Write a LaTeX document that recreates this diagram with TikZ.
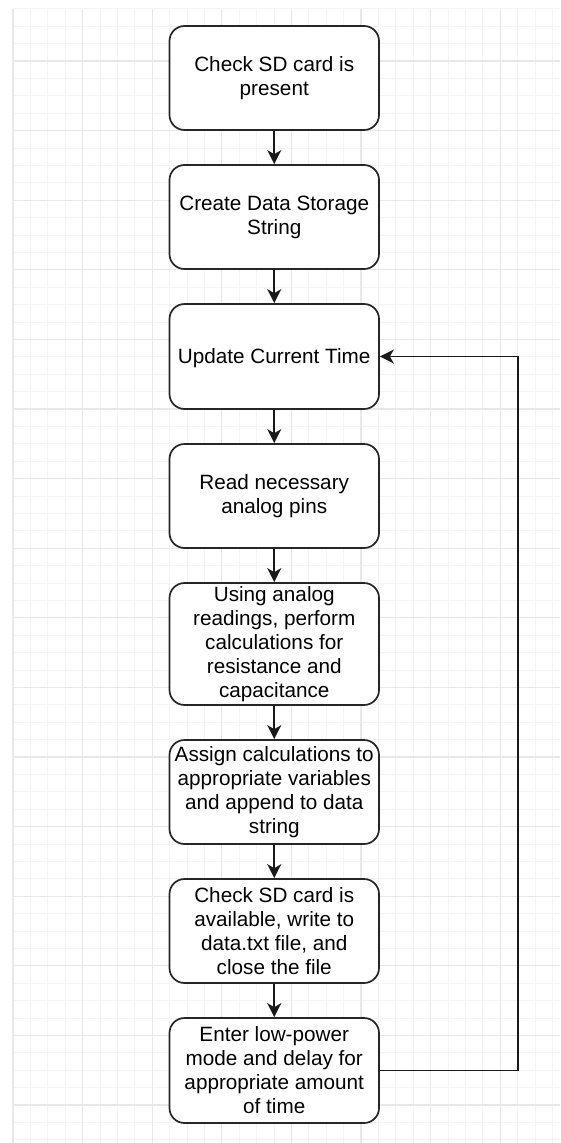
\documentclass[tikz,border=0pt]{standalone}
\usepackage{fontspec}
\setmainfont{Liberation Sans}
\usetikzlibrary{arrows.meta}
\definecolor{gridminor}{HTML}{F4F4F4}
\definecolor{gridmajor}{HTML}{E8E8E8}
\begin{document}
\begin{tikzpicture}[x=1pt,y=-1pt,
  stepbox/.style={draw=black!85, line width=1.7pt, rounded corners=15pt, fill=white,
    minimum width=209.5pt, minimum height=104pt, align=center, inner sep=2pt,
    font=\fontsize{20.7}{24}\selectfont,
    execute at begin node={\rule{0pt}{18.8pt}}},
  flow/.style={draw=black!90, line width=1.7pt,
    -{Stealth[length=14pt,width=14pt,inset=4pt]}},
  minorline/.style={draw=gridminor, line width=1pt},
  majorline/.style={draw=gridmajor, line width=1.2pt}]

% page and background grid
\useasboundingbox (0,0) rectangle (560,1143);
\fill[white] (0,0) rectangle (560,1143);
\foreach \k in {0,...,31} {
  \draw[minorline] (13+17.4*\k,9) -- (13+17.4*\k,1143);
}
\foreach \k in {1,...,66} {
  \draw[minorline] (13,-8.6+17.4*\k) -- (560,-8.6+17.4*\k);
}
\foreach \k in {0,...,7} {
  \draw[majorline] (13+69.6*\k,9) -- (13+69.6*\k,1143);
}
\foreach \k in {1,...,16} {
  \draw[majorline] (13,-8.6+69.6*\k) -- (560,-8.6+69.6*\k);
}

% process steps
\node[stepbox] (b1) at (274.25,78) {Check SD card is\\present};
\node[stepbox] (b2) at (274.25,217) {Create Data Storage\\String};
\node[stepbox, minimum height=105pt] (b3) at (274.25,356.5) {Update Current Time};
\node[stepbox] (b4) at (274.25,496) {Read necessary\\analog pins};
\node[stepbox, minimum height=122pt] (b5) at (274.25,644) {Using analog\\readings, perform\\calculations for\\resistance and\\capacitance};
\node[stepbox] (b6) at (274.25,792) {Assign calculations to\\appropriate variables\\and append to data\\string};
\node[stepbox] (b7) at (274.25,931) {Check SD card is\\available, write to\\data.txt file, and\\close the file};
\node[stepbox, minimum height=105pt] (b8) at (274.25,1070.5) {Enter low-power\\mode and delay for\\appropriate amount\\of time};

% sequential flow
\draw[flow] (b1) -- (b2);
\draw[flow] (b2) -- (b3);
\draw[flow] (b3) -- (b4);
\draw[flow] (b4) -- (b5);
\draw[flow] (b5) -- (b6);
\draw[flow] (b6) -- (b7);
\draw[flow] (b7) -- (b8);

% loop back to the time update
\coordinate (loopx) at (518,0);
\draw[flow] (b8.east) -- (b8.east -| loopx) -- (b3.east -| loopx) -- (b3.east);
\end{tikzpicture}
\end{document}
